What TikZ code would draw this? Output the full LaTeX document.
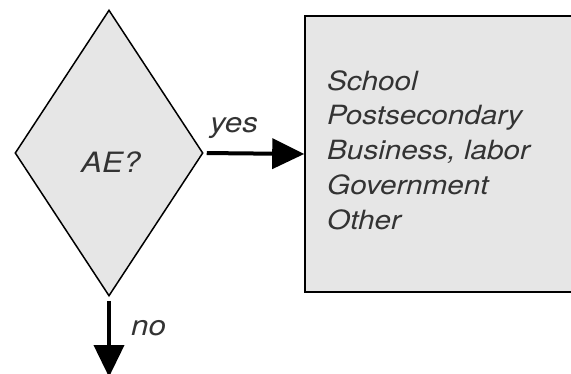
\documentclass[tikz,border=0pt]{standalone}
\usepackage{fontspec}
\setmainfont{TeX Gyre Heros}[FakeStretch=1.12]
\usetikzlibrary{arrows.meta,shapes.geometric}
\definecolor{boxfill}{HTML}{E6E6E6}
\tikzset{
  shapeline/.style={draw=black, fill=boxfill},
  flowarrow/.style={line width=4pt, -{Triangle[length=32pt,width=30pt]}},
  labeltext/.style={inner sep=0pt, font=\fontsize{28}{32}\selectfont\itshape, text=black!80},
  boxtext/.style={inner sep=0pt, align=left, font=\fontsize{26.5}{34.8}\selectfont\itshape, text=black!80}
}
\begin{document}
\begin{tikzpicture}[x=1pt,y=-1pt]
\useasboundingbox (0,0) rectangle (571,373);
\node[shapeline, diamond, line width=1.5pt, inner sep=0pt, minimum width=188pt, minimum height=286pt] (d) at (109,153) {};
\node[labeltext, anchor=base west] (q) at (81,172) {AE?};
\node[shapeline, rectangle, line width=1.6pt, inner sep=0pt, minimum width=280pt, minimum height=276pt] (box) at (445,154) {};
\node[boxtext, anchor=west] (items) at (327,150) {School\\Postsecondary\\Business, labor\\Government\\Other};
\coordinate (end) at (109,377);
\draw[flowarrow, shorten <=3pt] (d.east) -- (box.west);
\draw[flowarrow, shorten <=4pt] (d.south) -- (end);
\node[labeltext, anchor=base west] (yes) at (210,132) {yes};
\node[labeltext, anchor=base west] (no) at (131,335) {no};
\end{tikzpicture}
\end{document}
